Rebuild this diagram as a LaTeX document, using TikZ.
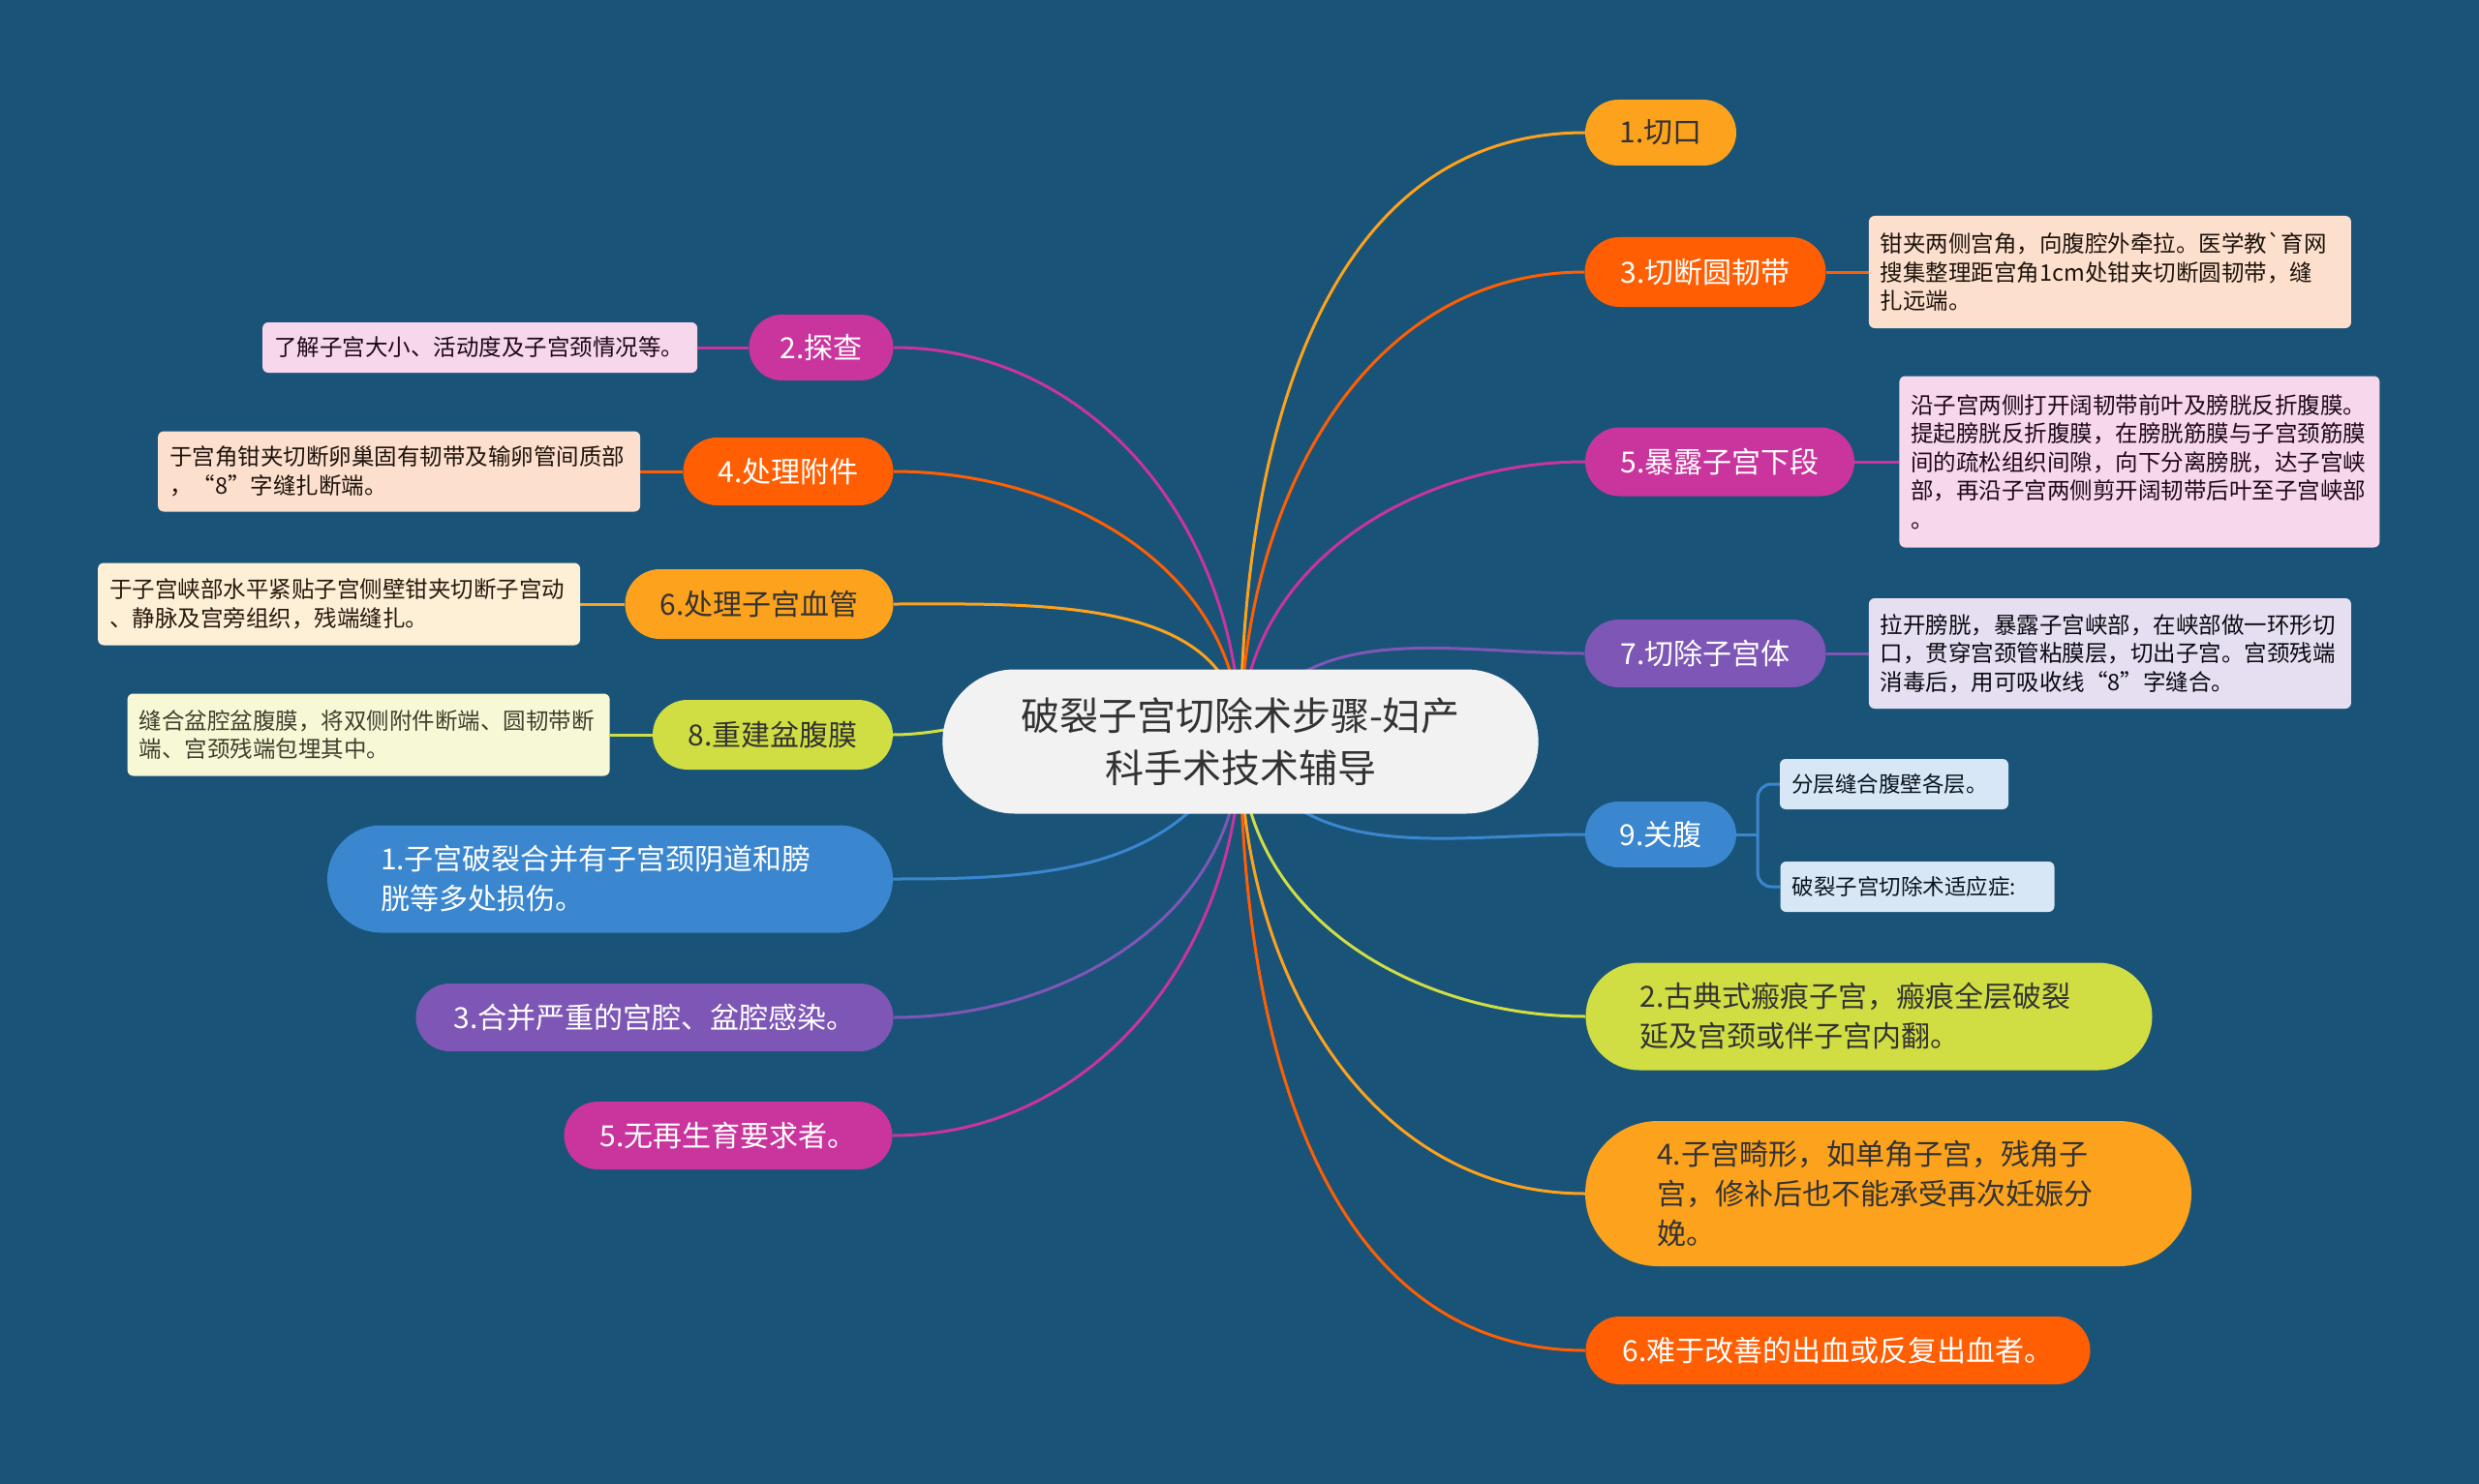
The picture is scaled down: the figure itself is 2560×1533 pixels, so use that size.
\documentclass[tikz,border=0pt]{standalone}
\usepackage{fontspec}
\setmainfont{Noto Sans CJK SC}
\usetikzlibrary{positioning,shapes.misc}
\definecolor{bgblue}{HTML}{1A5378}
\definecolor{yorange}{HTML}{FCA21D}
\definecolor{rorange}{HTML}{FF5E02}
\definecolor{magenta}{HTML}{C9349D}
\definecolor{purple}{HTML}{7E57B6}
\definecolor{mblue}{HTML}{3A86CF}
\definecolor{ygreen}{HTML}{D0DE43}
\definecolor{rootgray}{HTML}{F2F2F2}
\definecolor{darktext}{HTML}{333333}
\definecolor{peach}{HTML}{FDDFCE}
\definecolor{pink}{HTML}{F6D7EC}
\definecolor{lavender}{HTML}{E5DFF1}
\definecolor{cream}{HTML}{FEF0D6}
\definecolor{lyellow}{HTML}{F6F8D6}
\definecolor{lblue}{HTML}{D7E7F5}
\pgfdeclarelayer{bg}
\pgfdeclarelayer{lines}
\pgfsetlayers{bg,lines,main}
\tikzset{
  wh/.style 2 args={minimum width=#1pt, minimum height=#2pt},
  pill/.style={rounded rectangle, inner sep=0pt, font=\fontsize{30}{41}\selectfont, text=white},
  detail/.style={rectangle, rounded corners=6pt, inner xsep=12pt, inner ysep=0pt, align=left,
    font=\fontsize{23.5}{29.5}\selectfont},
  link/.style={line width=3pt},
}
\begin{document}
\begin{tikzpicture}[x=1pt,y=-1pt,node distance=45pt]
\begin{pgfonlayer}{bg}
\fill[bgblue] (0,0) rectangle (2560,1533);
\end{pgfonlayer}

% root
\node[rounded rectangle, fill=rootgray, text=darktext, wh={622}{149}, align=center,
  font=\fontsize{40}{54}\selectfont] (root) at (1281,766) {破裂子宫切除术步骤-妇产\\科手术技术辅导};

% right side
\node[pill, fill=yorange, text=darktext, wh={156}{68}] (n1) at (1715,137) {1.切口};
\node[pill, fill=rorange, wh={249}{72}] (n3) at (1761,281) {3.切断圆韧带};
\node[detail, fill=peach, text=black!85!brown, text width=474pt, minimum height=116pt, right=44pt of n3] (d3)
  {钳夹两侧宫角，向腹腔外牵拉。医学教\textasciigrave 育网\\搜集整理距宫角1cm处钳夹切断圆韧带，缝\\扎远端。};
\node[pill, fill=magenta, wh={278}{71}] (n5) at (1776,477) {5.暴露子宫下段};
\node[detail, fill=pink, text=black!85!magenta, text width=472pt, minimum height=177pt, right=46pt of n5] (d5)
  {沿子宫两侧打开阔韧带前叶及膀胱反折腹膜。\\提起膀胱反折腹膜，在膀胱筋膜与子宫颈筋膜\\间的疏松组织间隙，向下分离膀胱，达子宫峡\\部，再沿子宫两侧剪开阔韧带后叶至子宫峡部\\。};
\node[pill, fill=purple, wh={249}{70}] (n7) at (1761,675) {7.切除子宫体};
\node[detail, fill=lavender, text=black!90!purple, text width=474pt, minimum height=114pt, right=44pt of n7] (d7)
  {拉开膀胱，暴露子宫峡部，在峡部做一环形切\\口，贯穿宫颈管粘膜层，切出子宫。宫颈残端\\消毒后，用可吸收线“8”字缝合。};
\node[pill, fill=mblue, wh={156}{68}] (n9) at (1715,862) {9.关腹};
\node[detail, fill=lblue, text=black!85!mblue, text width=212pt, minimum height=52pt,
  font=\fontsize{22.5}{28}\selectfont] (s1) at (1956,810) {分层缝合腹壁各层。};
\node[detail, fill=lblue, text=black!85!mblue, text width=259pt, minimum height=52pt,
  font=\fontsize{22.5}{28}\selectfont] (s2) at (1980,916) {破裂子宫切除术适应症:};
\node[pill, fill=ygreen, text=darktext, wh={585}{111}, text width=473pt, align=left] (r2) at (1930,1050)
  {2.古典式瘢痕子宫，瘢痕全层破裂\\延及宫颈或伴子宫内翻。};
\node[pill, fill=yorange, text=darktext, wh={626}{150}, text width=478pt, align=left] (r4) at (1950,1233)
  {4.子宫畸形，如单角子宫，残角子\\宫，修补后也不能承受再次妊娠分\\娩。};
\node[pill, fill=rorange, wh={521}{70}] (r6) at (1898,1395) {6.难于改善的出血或反复出血者。};

% left side
\node[pill, fill=magenta, wh={149}{68}] (l2) at (848,359) {2.探查};
\node[detail, fill=pink, text=black!85!magenta, text width=425pt, minimum height=52pt, left=53pt of l2] (e2)
  {了解子宫大小、活动度及子宫颈情况等。};
\node[pill, fill=rorange, wh={217}{70}] (l4) at (814,487) {4.处理附件};
\node[detail, fill=peach, text=black!85!brown, text width=474pt, minimum height=83pt, left=44pt of l4] (e4)
  {于宫角钳夹切断卵巢固有韧带及输卵管间质部\\，“8”字缝扎断端。};
\node[pill, fill=yorange, text=darktext, wh={277}{72}] (l6) at (784,624) {6.处理子宫血管};
\node[detail, fill=cream, text=black!80!brown, text width=474pt, minimum height=85pt, left=46pt of l6] (e6)
  {于子宫峡部水平紧贴子宫侧壁钳夹切断子宫动\\、静脉及宫旁组织，残端缝扎。};
\node[pill, fill=ygreen, text=darktext, wh={248}{72}] (l8) at (798,759) {8.重建盆腹膜};
\node[detail, fill=lyellow, text=black!70!olive, text width=474pt, minimum height=85pt, left=44pt of l8] (e8)
  {缝合盆腔盆腹膜，将双侧附件断端、圆韧带断\\端、宫颈残端包埋其中。};
\node[pill, fill=mblue, wh={584}{111}, text width=474pt, align=left] (q1) at (630,908)
  {1.子宫破裂合并有子宫颈阴道和膀\\胱等多处损伤。};
\node[pill, fill=purple, wh={493}{70}] (q3) at (676,1051) {3.合并严重的宫腔、盆腔感染。};
\node[pill, fill=magenta, wh={339}{70}] (q5) at (752,1173) {5.无再生育要求者。};

% connectors
\begin{pgfonlayer}{lines}
\draw[link, yorange] (root.center) to[out=90,in=180] (n1.west);
\draw[link, rorange] (root.center) to[out=90,in=180] (n3.west);
\draw[link, magenta] (root.center) to[out=90,in=180] (n5.west);
\draw[link, purple] (root.center) to[out=65,in=180] (n7.west);
\draw[link, mblue] (root.center) to[out=-65,in=180] (n9.west);
\draw[link, ygreen] (root.center) to[out=-90,in=180] (r2.west);
\draw[link, yorange] (root.center) to[out=-90,in=180] (r4.west);
\draw[link, rorange] (root.center) to[out=-90,in=180] (r6.west);
\draw[link, magenta] (root.center) to[out=90,in=0] (l2.east);
\draw[link, rorange] (root.center) to[out=90,in=0] (l4.east);
\draw[link, yorange] (root.center) to[out=90,in=0] (l6.east);
\draw[link, ygreen] (root.center) to[out=90,in=0] (l8.east);
\draw[link, mblue] (root.center) to[out=-115,in=0] (q1.east);
\draw[link, purple] (root.center) to[out=-90,in=0] (q3.east);
\draw[link, magenta] (root.center) to[out=-90,in=0] (q5.east);
\draw[link, rorange] (n3.east) -- (n3.east -| d3.west);
\draw[link, magenta] (n5.east) -- (n5.east -| d5.west);
\draw[link, purple] (n7.east) -- (n7.east -| d7.west);
\draw[link, magenta] (l2.west) -- (l2.west -| e2.east);
\draw[link, rorange] (l4.west) -- (l4.west -| e4.east);
\draw[link, yorange] (l6.west) -- (l6.west -| e6.east);
\draw[link, ygreen] (l8.west) -- (l8.west -| e8.east);
\draw[link, mblue] (n9.east) -- ++(22,0) coordinate (b9);
\draw[link, mblue, rounded corners=14pt] (b9) |- (s1.west);
\draw[link, mblue, rounded corners=14pt] (b9) |- (s2.west);
\end{pgfonlayer}
\end{tikzpicture}
\end{document}
